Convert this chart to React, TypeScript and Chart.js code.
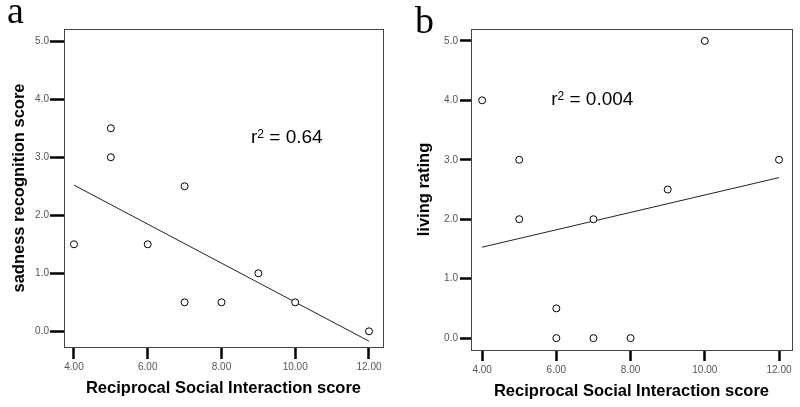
import React, { useEffect, useRef } from "react";
import { Chart, registerables } from "chart.js";

Chart.register(...registerables);

// ---- Data ----
const xTitle = "Reciprocal Social Interaction score";

// Panel a
const panelLabelA = "a";
const yTitleA = "sadness recognition score";
const rsiA = [4, 5, 5, 6, 7, 7, 8, 9, 10, 12];
const sadnessA = [1.5, 3.5, 3.0, 1.5, 2.5, 0.5, 0.5, 1.0, 0.5, 0.0];
const fitXA = [4, 12];
const fitYA = [2.52, -0.17];
const r2A = "0.64";

// Panel b
const panelLabelB = "b";
const yTitleB = "living rating";
const rsiB = [4, 5, 5, 6, 6, 7, 7, 8, 9, 10, 12];
const livingB = [4.0, 3.0, 2.0, 0.5, 0.0, 2.0, 0.0, 0.0, 2.5, 5.0, 3.0];
const fitXB = [4, 12];
const fitYB = [1.53, 2.7];
const r2B = "0.004";

const SANS = '"Liberation Sans", Arial, sans-serif';
const SERIF = '"Liberation Serif", "Times New Roman", serif';
const TITLE_SIZE = 16.5;

type PanelCfg = {
  label: string;
  yTitle: string;
  xs: number[];
  ys: number[];
  fx: number[];
  fy: number[];
  r2: string;
  xMin: number;
  xMax: number;
  yMin: number;
  yMax: number;
  yAxisWidth: number;
  xAxisHeight: number;
  padRight: number;
  padTop: number;
  yTickLen: number;
  xTickLen: number;
  yTickPad: number;
  xTickPad: number;
  yTitlePad: number;
  xTitlePad: number;
  r2At: [number, number];
  labelAt: [number, number];
};

const framePlugin = {
  id: "frameAndNotes",
  afterDraw(chart: any, _args: any, opts: any) {
    const { ctx, chartArea: a } = chart;
    ctx.save();
    ctx.strokeStyle = "#444";
    ctx.lineWidth = 1;
    ctx.strokeRect(
      Math.round(a.left) + 0.5,
      Math.round(a.top) + 0.5,
      Math.round(a.right - a.left),
      Math.round(a.bottom - a.top)
    );
    // r^2 annotation
    const xs = chart.scales.x;
    const ys = chart.scales.y;
    let px = xs.getPixelForValue(opts.r2At[0]);
    const py = ys.getPixelForValue(opts.r2At[1]);
    ctx.fillStyle = "#000";
    ctx.textBaseline = "alphabetic";
    ctx.textAlign = "left";
    ctx.font = `19px ${SANS}`;
    ctx.fillText("r", px, py);
    px += ctx.measureText("r").width;
    ctx.font = `12px ${SANS}`;
    ctx.fillText("2", px, py - 5);
    px += ctx.measureText("2").width;
    ctx.font = `19px ${SANS}`;
    ctx.fillText(" = " + opts.r2, px, py);
    // panel letter
    ctx.font = `38px ${SERIF}`;
    ctx.fillText(opts.label, opts.labelAt[0], opts.labelAt[1]);
    ctx.restore();
  },
};

function makeConfig(p: PanelCfg): any {
  return {
    type: "scatter",
    data: {
      datasets: [
        {
          data: p.xs.map((x, i) => ({ x, y: p.ys[i] })),
          showLine: false,
          pointStyle: "circle",
          pointRadius: 3.5,
          pointBorderWidth: 1,
          pointBackgroundColor: "#fff",
          pointBorderColor: "#000",
        },
        {
          data: p.fx.map((x, i) => ({ x, y: p.fy[i] })),
          showLine: true,
          pointRadius: 0,
          borderColor: "#222",
          borderWidth: 1,
          fill: false,
        },
      ],
    },
    options: {
      responsive: false,
      animation: false,
      devicePixelRatio: 1,
      layout: { padding: { left: 0, right: p.padRight, top: p.padTop, bottom: 0 } },
      plugins: {
        legend: { display: false },
        tooltip: { enabled: false },
        frameAndNotes: { r2: p.r2, r2At: p.r2At, label: p.label, labelAt: p.labelAt },
      },
      scales: {
        x: {
          type: "linear",
          position: "bottom",
          min: p.xMin,
          max: p.xMax,
          afterFit: (s: any) => {
            s.height = p.xAxisHeight;
          },
          border: { display: false },
          grid: {
            drawOnChartArea: false,
            drawTicks: true,
            tickLength: p.xTickLen,
            tickWidth: 2.5,
            tickColor: "#000",
          },
          ticks: {
            stepSize: 2,
            includeBounds: false,
            padding: p.xTickPad,
            color: "#555",
            font: { family: SANS, size: 10 },
            maxRotation: 0,
            callback: (v: any) => Number(v).toFixed(2),
          },
          title: {
            display: true,
            text: xTitle,
            color: "#000",
            font: { family: SANS, size: TITLE_SIZE, weight: "bold" },
            padding: { top: 0, bottom: p.xTitlePad },
          },
        },
        y: {
          type: "linear",
          position: "left",
          min: p.yMin,
          max: p.yMax,
          afterFit: (s: any) => {
            s.width = p.yAxisWidth;
          },
          border: { display: false },
          grid: {
            drawOnChartArea: false,
            drawTicks: true,
            tickLength: p.yTickLen,
            tickWidth: 2.5,
            tickColor: "#000",
          },
          ticks: {
            stepSize: 1,
            includeBounds: false,
            padding: p.yTickPad,
            color: "#555",
            font: { family: SANS, size: 10 },
            callback: (v: any) => Number(v).toFixed(1),
          },
          title: {
            display: true,
            text: p.yTitle,
            color: "#000",
            font: { family: SANS, size: TITLE_SIZE, weight: "bold" },
            padding: { top: p.yTitlePad, bottom: 0 },
          },
        },
      },
    },
    plugins: [framePlugin],
  };
}

const panelA: PanelCfg = {
  label: panelLabelA,
  yTitle: yTitleA,
  xs: rsiA,
  ys: sadnessA,
  fx: fitXA,
  fy: fitYA,
  r2: r2A,
  xMin: 3.73,
  xMax: 12.38,
  yMin: -0.27,
  yMax: 5.21,
  yAxisWidth: 64,
  xAxisHeight: 60,
  padRight: 17,
  padTop: 29,
  yTickLen: 14,
  xTickLen: 12,
  yTickPad: 1,
  xTickPad: 2,
  yTitlePad: 10,
  xTitlePad: 8.5,
  r2At: [8.8, 3.25],
  labelAt: [7, 23],
};

const panelB: PanelCfg = {
  label: panelLabelB,
  yTitle: yTitleB,
  xs: rsiB,
  ys: livingB,
  fx: fitXB,
  fy: fitYB,
  r2: r2B,
  xMin: 3.7,
  xMax: 12.35,
  yMin: -0.2,
  yMax: 5.2,
  yAxisWidth: 71,
  xAxisHeight: 57,
  padRight: 8,
  padTop: 29,
  yTickLen: 11,
  xTickLen: 11,
  yTickPad: 2,
  xTickPad: 3,
  yTitlePad: 15,
  xTitlePad: 6,
  r2At: [5.86, 3.92],
  labelAt: [15, 33],
};

function Panel({ cfg, left }: { cfg: PanelCfg; left: number }) {
  const ref = useRef<HTMLCanvasElement | null>(null);
  useEffect(() => {
    if (!ref.current) return;
    const chart = new Chart(ref.current, makeConfig(cfg));
    return () => chart.destroy();
  }, [cfg]);
  return (
    <canvas
      ref={ref}
      width={400}
      height={407}
      style={{ position: "absolute", left, top: 0, width: 400, height: 407 }}
    />
  );
}

export default function App() {
  return (
    <div
      style={{
        position: "absolute",
        left: 0,
        top: 0,
        width: 800,
        height: 407,
        background: "#fff",
        overflow: "hidden",
      }}
    >
      <Panel cfg={panelA} left={0} />
      <Panel cfg={panelB} left={400} />
    </div>
  );
}
